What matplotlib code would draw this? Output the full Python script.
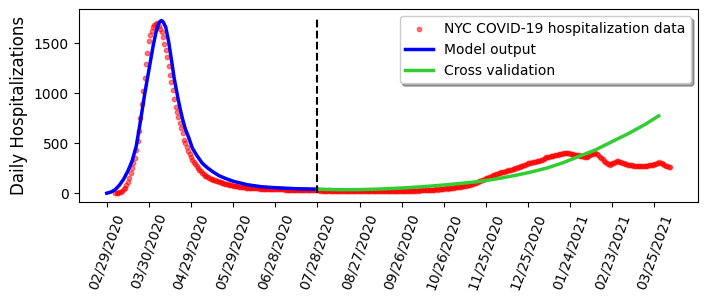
import numpy as np
import matplotlib
matplotlib.use("Agg")
import matplotlib.pyplot as plt

# day 0 = 02/29/2020
first_data_day = 6

# daily NYC hospitalizations (day 6 .. day 401)
hosp_rise = [0, 3, 7, 12, 17, 23, 38, 57, 80, 114, 150, 200, 255, 305, 350, 435,
             525, 620, 750, 890, 1025, 1155, 1295, 1405, 1517, 1578, 1622, 1657,
             1680, 1692, 1700]
hosp_fall = [1675, 1645, 1610, 1565, 1493, 1433, 1360, 1270, 1185, 1115, 1035, 940,
             860, 815, 760, 705, 650, 598, 533, 500, 465, 425, 390, 358, 330, 310,
             288, 268, 252, 236, 218, 200, 188, 177, 168, 160, 152, 146, 140, 135,
             130, 125, 120, 116]
hosp_tail = [111, 106, 101, 97, 93, 89, 85, 82, 79, 76, 73, 70, 68, 66, 64, 62, 60, 58,
             57, 55,
             54, 53, 52, 51, 50, 49, 48, 48, 47, 46, 45, 45, 44, 43, 43, 42, 42, 41, 41, 40,
             40, 39, 39, 38, 38, 38, 37, 37, 36, 36, 36, 35, 35, 35, 34, 34, 34, 33, 33, 33,
             32, 32, 32, 31, 31, 31, 30, 30, 30, 29]
hosp_summer = [28, 26, 29, 25, 27, 24, 26, 28, 23, 25, 27, 24, 22, 26, 25, 23, 27, 24,
               22, 25, 23, 21, 24, 26, 22, 20, 23, 25, 21, 22,
               20, 23, 19, 21, 24, 20, 18, 22, 21, 19, 23, 20, 18, 21, 22, 19, 20, 23,
               21, 18, 22, 20, 24, 21, 19, 23, 22, 20, 25, 23,
               24, 22, 26, 25, 23, 27, 25, 28, 26, 24, 29, 27, 30, 28, 31, 29, 33, 31,
               34, 32, 35, 37, 34, 38, 40, 37, 42, 44, 41, 46]
hosp_second = [48, 50, 47, 52, 55, 53, 57, 60, 58, 63, 66, 64, 69, 72, 70, 76, 80, 78, 84, 90,
               96, 101, 107, 113, 119, 125, 131, 137, 143, 149, 155, 161, 167, 173, 179,
               185, 190, 195, 199, 203,
               207, 211, 215, 219, 223, 227, 231, 235, 239, 243, 247, 252, 257, 262, 268,
               274, 280, 286, 292, 297,
               300, 304, 307, 311, 315, 318, 322, 326, 330, 335,
               342, 350, 358, 362, 366, 369, 371, 374, 377, 380,
               383, 387, 391, 395, 398, 402, 405, 402, 398, 395,
               392, 389, 386, 384, 382, 379, 376, 373, 368, 362,
               360, 366, 373, 380, 388, 396, 400, 398, 392, 380,
               365, 352, 340, 325, 310, 298, 288, 285, 292, 300,
               305, 312, 318, 320, 315, 308, 303, 298, 294, 290,
               286, 282, 279, 277, 275, 272, 270, 268, 269, 270,
               271, 272, 273, 274, 275, 277, 279, 282, 285, 290,
               296, 302, 307, 303, 297, 290, 283, 276, 270, 265, 260]
hosp = hosp_rise + hosp_fall + hosp_tail + hosp_summer + hosp_second
hosp_days = np.arange(first_data_day, first_data_day + len(hosp))

# model fit (day 0 .. 150)
model_days = [0, 3, 6, 9, 12, 15, 18, 21, 24, 27, 30, 33, 35, 37, 38, 39, 40, 42, 44, 46,
              48, 50, 52, 54, 56, 58, 61, 64, 68, 72, 76, 80, 85, 90, 100, 110, 120, 135, 150]
model_vals = [0, 12, 35, 80, 140, 220, 320, 470, 720, 990, 1230, 1470, 1605, 1695, 1718,
              1725, 1715, 1660, 1520, 1340, 1150, 1000, 860, 740, 640, 570, 450, 380, 300,
              250, 210, 175, 145, 120, 85, 65, 55, 45, 40]

# cross validation (day 150 .. 393)
cv_days = [150, 165, 180, 195, 210, 225, 240, 255, 265, 277, 289, 301, 313, 325, 336,
           348, 360, 372, 384, 393]
cv_vals = [40, 35, 36, 42, 52, 65, 82, 102, 117, 142, 173, 208, 250, 305, 367, 433, 517,
           600, 693, 773]

split_day = 150
tick_days = list(range(0, 391, 30))
tick_labels = ['02/29/2020', '03/30/2020', '04/29/2020', '05/29/2020', '06/28/2020',
               '07/28/2020', '08/27/2020', '09/26/2020', '10/26/2020', '11/25/2020',
               '12/25/2020', '01/24/2021', '02/23/2021', '03/25/2021']

fig = plt.figure(figsize=(7.08, 3.01), dpi=100)
ax = fig.add_subplot(111)
fig.subplots_adjust(left=0.111, right=0.986, top=0.969, bottom=0.329)

ax.scatter(hosp_days, hosp, s=10, c='red', alpha=0.5, label='NYC COVID-19 hospitalization data')
ax.plot(model_days, model_vals, color='blue', lw=2.5, label='Model output')
ax.plot(cv_days, cv_vals, color='limegreen', lw=2.5, label='Cross validation')
ax.vlines(split_day, 0, 1750, colors='black', linestyles='--', lw=1.5)

ax.set_xlim(-20.05, 421.05)
ax.set_ylim(-87.5, 1837.5)
ax.set_xticks(tick_days)
ax.set_xticklabels(tick_labels, rotation=70)
ax.set_ylabel('Daily Hospitalizations', fontsize=12)
ax.legend(loc='upper right', shadow=True)

fig.savefig('out.png', dpi=100)
